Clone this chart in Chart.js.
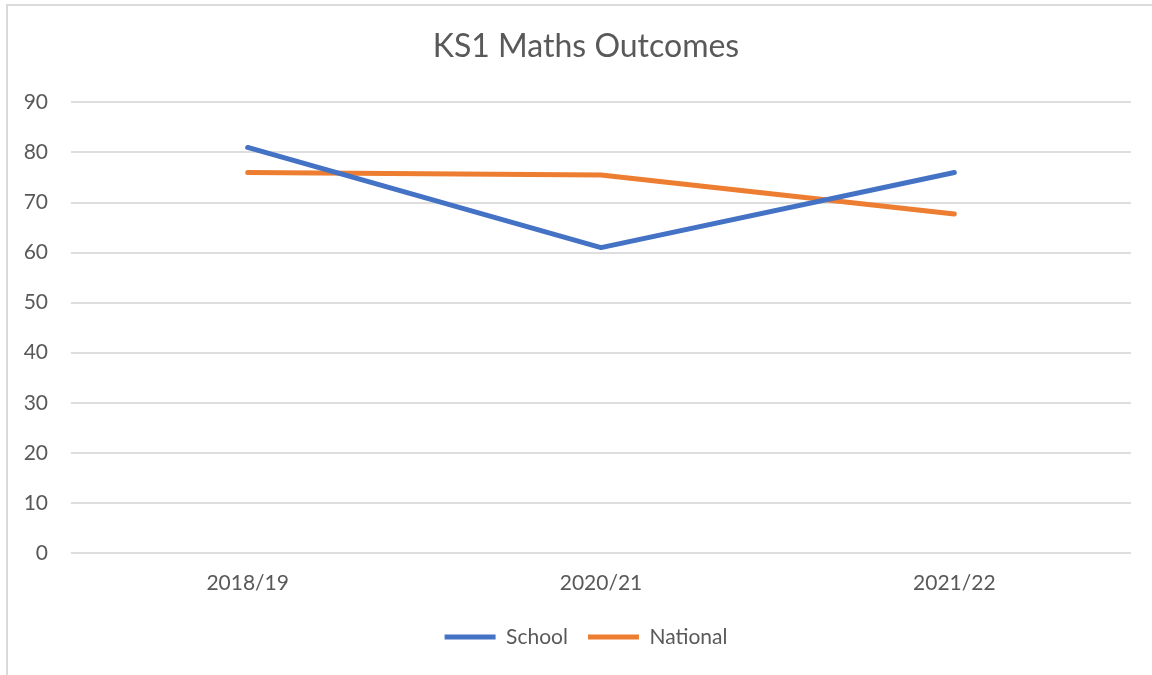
<!DOCTYPE html>
<html>
<head>
<meta charset="utf-8">
<script src="https://cdn.jsdelivr.net/npm/chart.js@4"></script>
<style>
    html, body { margin: 0; padding: 0; background: #fff; overflow: hidden; }
    #frame { position: absolute; left: 6px; top: 4px; width: 1200px; height: 720px; border: 2px solid #dadada; }
    #chart { position: absolute; left: 0; top: 0; }
</style>
</head>
<body>
<div id="frame"></div>
<canvas id="chart" width="1172" height="675"></canvas>
<script>
// ข้อมูลของกราฟ
const categories = ['2018/19', '2020/21', '2021/22'];
const schoolValues = [81, 61, 76];
const nationalValues = [76, 75.5, 67.7];
const yTicks = [0, 10, 20, 30, 40, 50, 60, 70, 80, 90];

const textColor = '#595959';
const fontFamily = 'Lato, "Open Sans", sans-serif';

const ctx = document.getElementById('chart').getContext('2d');

let outcomesChart = new Chart(ctx, {
    type: 'line',
    data: {
        labels: categories,
        datasets: [
            {
                label: 'School',
                data: schoolValues,
                borderColor: '#4472C4',
                backgroundColor: '#4472C4',
                borderWidth: 5,
                borderCapStyle: 'round',
                borderJoinStyle: 'round',
                pointRadius: 0,
                tension: 0
            },
            {
                label: 'National',
                data: nationalValues,
                borderColor: '#ED7D31',
                backgroundColor: '#ED7D31',
                borderWidth: 5,
                borderCapStyle: 'round',
                borderJoinStyle: 'round',
                pointRadius: 0,
                tension: 0
            }
        ]
    },
    options: {
        responsive: false,
        animation: false,
        layout: {
            padding: { left: 0, right: 0, top: 0, bottom: 17.5 }
        },
        plugins: {
            title: {
                display: true,
                text: 'KS1 Maths Outcomes',
                color: textColor,
                font: { family: fontFamily, size: 32, weight: 'normal' },
                padding: { top: 27, bottom: 37 }
            },
            legend: {
                display: true,
                position: 'bottom',
                labels: {
                    color: textColor,
                    font: { family: fontFamily, size: 21 },
                    usePointStyle: true,
                    pointStyle: 'line',
                    pointStyleWidth: 51,
                    padding: 20
                }
            },
            tooltip: { enabled: false }
        },
        scales: {
            x: {
                offset: true,
                grid: { display: false },
                border: { display: false },
                ticks: {
                    color: textColor,
                    font: { family: fontFamily, size: 21 },
                    padding: 10
                },
                afterFit: function(scale) {
                    scale.height = 53.5;
                }
            },
            y: {
                min: 0,
                max: 90,
                grid: {
                    color: '#dedede',
                    lineWidth: 2,
                    drawTicks: false
                },
                border: { display: false },
                afterBuildTicks: function(scale) {
                    scale.ticks = yTicks.map(v => ({ value: v }));
                },
                ticks: {
                    color: textColor,
                    font: { family: fontFamily, size: 21 },
                    padding: 23
                },
                afterFit: function(scale) {
                    scale.width = 71;
                }
            },
            // แกนว่างด้านขวา เพื่อให้ชื่อกราฟและ legend อยู่กึ่งกลางกรอบ
            spacer: {
                type: 'linear',
                position: 'right',
                display: true,
                grid: { display: false },
                border: { display: false },
                ticks: { display: false },
                afterFit: function(scale) {
                    scale.width = 41;
                }
            }
        }
    }
});
</script>
</body>
</html>
